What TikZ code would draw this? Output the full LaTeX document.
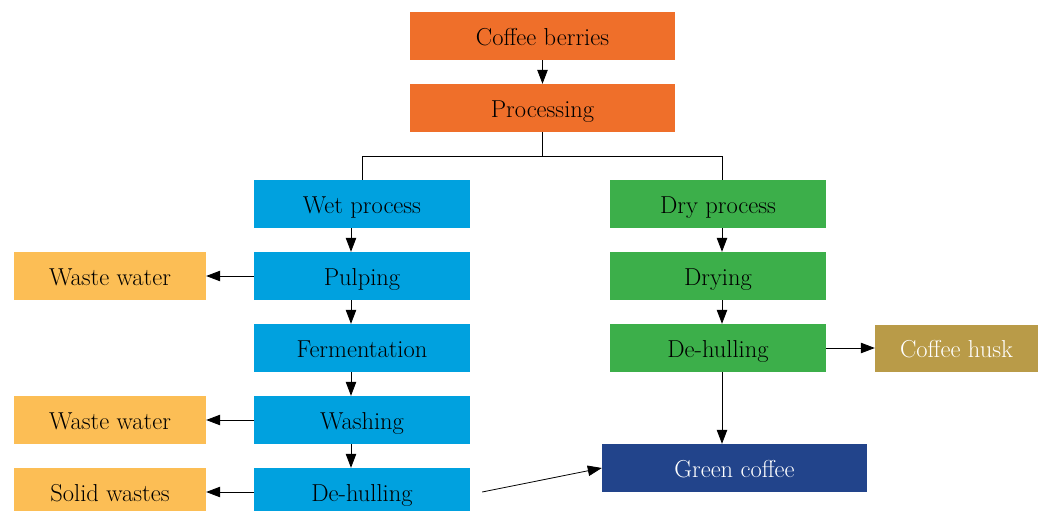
\documentclass[tikz,border=0pt]{standalone}
\usetikzlibrary{arrows.meta,positioning}
\definecolor{corange}{HTML}{EF6F2A}
\definecolor{cblue}{HTML}{00A1DF}
\definecolor{cgreen}{HTML}{3CAF4A}
\definecolor{cyellow}{HTML}{FCBE55}
\definecolor{chusk}{HTML}{B99B48}
\definecolor{cnavy}{HTML}{22448B}
\begin{document}
\begin{tikzpicture}[x=1pt,y=-1pt,
  box/.style={rectangle,inner sep=0pt,minimum height=48pt,font=\fontsize{24.5}{28}\selectfont,text=black,text depth=1pt,text height=20pt},
  arr/.style={-{Triangle[length=14pt,width=10.5pt]},line width=0.8pt},
  ln/.style={line width=0.8pt}]
\useasboundingbox (0,0) rectangle (1042,511);
\node[box,fill=corange,minimum width=265pt] (berries) at (542.5,36) {Coffee berries};
\node[box,fill=corange,minimum width=265pt] (proc) at (542.5,108) {Processing};
\node[box,fill=cblue,minimum width=216pt] (wet) at (362,204) {Wet process};
\node[box,fill=cblue,minimum width=216pt] (pulp) at (362,276) {Pulping};
\node[box,fill=cblue,minimum width=216pt] (ferm) at (362,348) {Fermentation};
\node[box,fill=cblue,minimum width=216pt] (wash) at (362,420) {Washing};
\node[box,fill=cblue,minimum width=216pt] (wdh) at (362,492) {De-hulling};
\node[box,fill=cyellow,minimum width=192pt] (ww1) at (110,276) {Waste water};
\node[box,fill=cyellow,minimum width=192pt] (ww2) at (110,420) {Waste water};
\node[box,fill=cyellow,minimum width=192pt] (solid) at (110,492) {Solid wastes};
\node[box,fill=cgreen,minimum width=216pt] (dry) at (718,204) {Dry process};
\node[box,fill=cgreen,minimum width=216pt] (drying) at (718,276) {Drying};
\node[box,fill=cgreen,minimum width=216pt] (ddh) at (718,348) {De-hulling};
\node[box,fill=chusk,minimum width=163pt,minimum height=47pt,text=white] (husk) at (956.5,348) {Coffee husk};
\node[box,fill=cnavy,minimum width=265pt,text=white] (green) at (734.5,468) {Green coffee};
\coordinate (busl) at (362,156);
\coordinate (busr) at (722,156);
\draw[arr] (berries) -- (proc);
\draw[ln] (proc.south) -- (proc.south |- busl);
\draw[ln] (wet.north) -- (busl) -- (busr) -- ([xshift=4pt]dry.north);
\draw[arr] ([xshift=-11pt]wet.south) -- ([xshift=-11pt]pulp.north);
\draw[arr] ([xshift=-11pt]pulp.south) -- ([xshift=-11pt]ferm.north);
\draw[arr] ([xshift=-11pt]ferm.south) -- ([xshift=-11pt]wash.north);
\draw[arr] ([xshift=-11pt]wash.south) -- ([xshift=-11pt]wdh.north);
\draw[arr] (pulp.west) -- (ww1.east);
\draw[arr] (wash.west) -- (ww2.east);
\draw[arr] (wdh.west) -- (solid.east);
\draw[arr] ([xshift=4pt]dry.south) -- ([xshift=4pt]drying.north);
\draw[arr] ([xshift=4pt]drying.south) -- ([xshift=4pt]ddh.north);
\draw[arr] ([xshift=4pt]ddh.south) -- (green.north -| busr);
\draw[arr] (ddh.east) -- (husk.west);
\draw[arr] ([xshift=12pt]wdh.east) -- (green.west);
\end{tikzpicture}
\end{document}
